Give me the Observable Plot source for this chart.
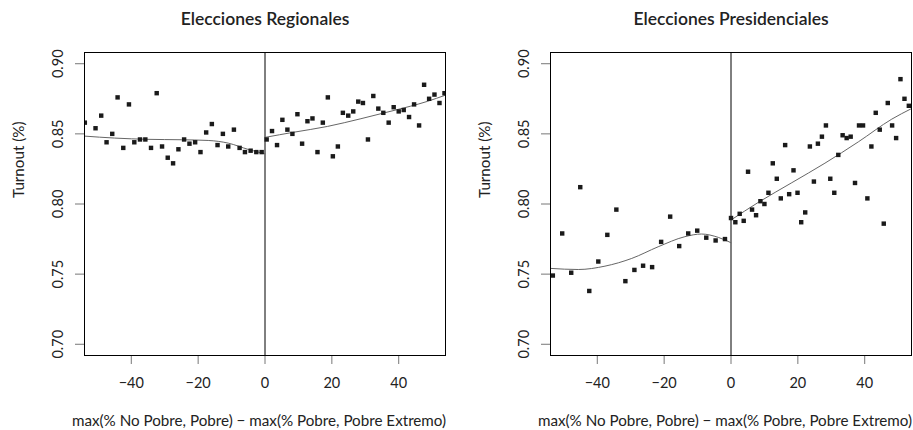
<!DOCTYPE html>
<html><head><meta charset="utf-8">
<script src="https://cdn.jsdelivr.net/npm/d3@7"></script>
<script src="https://cdn.jsdelivr.net/npm/@observablehq/plot@0.6"></script>
<style>
body{margin:0;background:#fff;}
#wrap{display:flex;width:913px;height:430px;}
svg{display:block;}
</style></head><body><div id="wrap"></div>
<script>
// Titles and labels
const titles = ["Elecciones Regionales", "Elecciones Presidenciales"];
const xLabel = "max(% No Pobre, Pobre) \u2212 max(% Pobre, Pobre Extremo)";
const yLabel = "Turnout (%)";
const xTicks = [-40, -20, 0, 20, 40];
const yTicks = [0.70, 0.75, 0.80, 0.85, 0.90];

// Elecciones Regionales: binned means
const regLeftX = [-53.9,-50.7,-49.0,-47.4,-45.7,-44.1,-42.4,-40.7,-39.1,-37.4,-35.8,-34.1,-32.4,-30.8,-29.1,-27.5,-25.9,-24.2,-22.6,-20.9,-19.3,-17.6,-15.9,-14.2,-12.6,-11.0,-9.3,-7.6,-6.0,-4.3,-2.6,-1.0];
const regLeftY = [0.858,0.854,0.863,0.844,0.850,0.876,0.840,0.871,0.844,0.846,0.846,0.840,0.879,0.841,0.833,0.829,0.839,0.846,0.843,0.844,0.837,0.851,0.857,0.842,0.850,0.841,0.853,0.840,0.837,0.838,0.837,0.837];
const regRightX = [0.5,2.1,3.6,5.2,6.7,8.2,9.7,11.1,12.7,14.2,15.7,17.3,18.8,20.3,21.8,23.3,24.9,26.4,27.9,29.3,30.8,32.4,33.9,35.4,37.0,38.5,40.0,41.5,43.1,44.6,46.1,47.6,49.1,50.7,52.2,53.7];
const regRightY = [0.846,0.852,0.842,0.860,0.853,0.850,0.864,0.843,0.859,0.861,0.837,0.858,0.876,0.834,0.841,0.865,0.863,0.866,0.873,0.872,0.846,0.877,0.868,0.865,0.858,0.869,0.866,0.867,0.862,0.871,0.856,0.885,0.875,0.878,0.872,0.879];
// Regionales: fitted curves
const regFitLeftX = [-54,-45,-35,-25,-17,-11,-5,0];
const regFitLeftY = [0.8484,0.8470,0.8461,0.8458,0.8453,0.8434,0.8389,0.8358];
const regFitRightX = [0,8.7,18.7,28.7,38.6,48.5,54];
const regFitRightY = [0.8475,0.8512,0.8553,0.8608,0.8667,0.8731,0.8776];

// Elecciones Presidenciales: binned means
const presLeftX = [-53.3,-50.5,-47.8,-45.1,-42.4,-39.7,-37.0,-34.3,-31.6,-28.9,-26.3,-23.6,-20.9,-18.2,-15.5,-12.8,-10.1,-7.4,-4.6,-1.8];
const presLeftY = [0.749,0.779,0.751,0.812,0.738,0.759,0.778,0.796,0.745,0.753,0.756,0.755,0.773,0.791,0.770,0.779,0.781,0.776,0.774,0.775];
const presRightX = [0.0,1.3,2.6,3.8,5.1,6.3,7.5,8.8,10.0,11.2,12.5,13.7,14.9,16.2,17.4,18.7,19.9,21.0,22.2,23.6,24.8,26.0,27.2,28.4,29.7,30.9,32.1,33.4,34.6,35.8,37.1,38.3,39.5,40.8,42.0,43.3,44.5,45.7,46.9,48.2,49.4,50.7,51.9,53.2];
const presRightY = [0.790,0.787,0.793,0.788,0.823,0.796,0.792,0.802,0.800,0.808,0.829,0.818,0.804,0.842,0.807,0.824,0.808,0.787,0.794,0.841,0.816,0.843,0.848,0.856,0.818,0.808,0.835,0.849,0.847,0.848,0.815,0.856,0.856,0.804,0.841,0.865,0.853,0.786,0.872,0.856,0.847,0.889,0.875,0.870];
// Presidenciales: fitted curves
const presFitLeftX = [-54,-45.7,-37.7,-29.7,-21.8,-13.8,-8.8,-3.8,0];
const presFitLeftY = [0.7541,0.7533,0.7557,0.7612,0.7695,0.7767,0.7786,0.7762,0.7724];
const presFitRightX = [0,8.2,18.2,28.1,38.1,48.1,54];
const presFitRightY = [0.7886,0.8012,0.8152,0.8291,0.8443,0.8605,0.8680];

const zip = (xs, ys) => xs.map((x, i) => ({x, y: ys[i]}));
const font = "Lato, 'Open Sans', sans-serif";

function panel({title, lx, ly, rx, ry, flx, fly, frx, fry, width, ml, mr}) {
  const pts = [...zip(lx, ly), ...zip(rx, ry)];
  return Plot.plot({
    width, height: 430,
    marginLeft: ml, marginRight: mr, marginTop: 52, marginBottom: 75,
    style: {fontFamily: font, background: "white", color: "#222"},
    x: {domain: [-54, 54]},
    y: {domain: [0.692, 0.908]},
    marks: [
      Plot.axisX({ticks: xTicks, tickSize: 9, tickPadding: 13, tickFormat: d3.format("d"), label: null, stroke: "#777", fill: "#222", fontSize: 14.5}),
      Plot.axisY({ticks: yTicks, tickSize: 9, tickRotate: -90, tickPadding: 13, tickFormat: d3.format(".2f"), label: null, stroke: "#777", fill: "#222", fontSize: 14.5}),
      Plot.ruleX([0], {stroke: "black", strokeWidth: 1}),
      Plot.line(zip(flx, fly), {x: "x", y: "y", stroke: "#666", strokeWidth: 1, curve: "monotone-x"}),
      Plot.line(zip(frx, fry), {x: "x", y: "y", stroke: "#666", strokeWidth: 1, curve: "monotone-x"}),
      Plot.dot(pts, {x: "x", y: "y", symbol: "square", r: 2.5, fill: "#1a1a1a", clip: true}),
      Plot.frame({stroke: "black", strokeWidth: 1}),
      Plot.text([title], {text: d => d, frameAnchor: "top", lineAnchor: "middle", dy: -33, fontSize: 17.5, fontWeight: 600, fill: "#222"}),
      Plot.text([xLabel], {text: d => d, frameAnchor: "bottom", lineAnchor: "middle", dy: 66, dx: -6, fontSize: 15.2, fill: "#222"}),
      Plot.text([yLabel], {text: d => d, frameAnchor: "left", lineAnchor: "middle", dx: -65, dy: -6, rotate: -90, fontSize: 15.2, fill: "#222"})
    ]
  });
}

const wrap = document.getElementById("wrap");
wrap.append(panel({title: titles[0], lx: regLeftX, ly: regLeftY, rx: regRightX, ry: regRightY,
  flx: regFitLeftX, fly: regFitLeftY, frx: regFitRightX, fry: regFitRightY, width: 456, ml: 84, mr: 11}));
wrap.append(panel({title: titles[1], lx: presLeftX, ly: presLeftY, rx: presRightX, ry: presRightY,
  flx: presFitLeftX, fly: presFitLeftY, frx: presFitRightX, fry: presFitRightY, width: 457, ml: 94, mr: 2}));
</script></body></html>
